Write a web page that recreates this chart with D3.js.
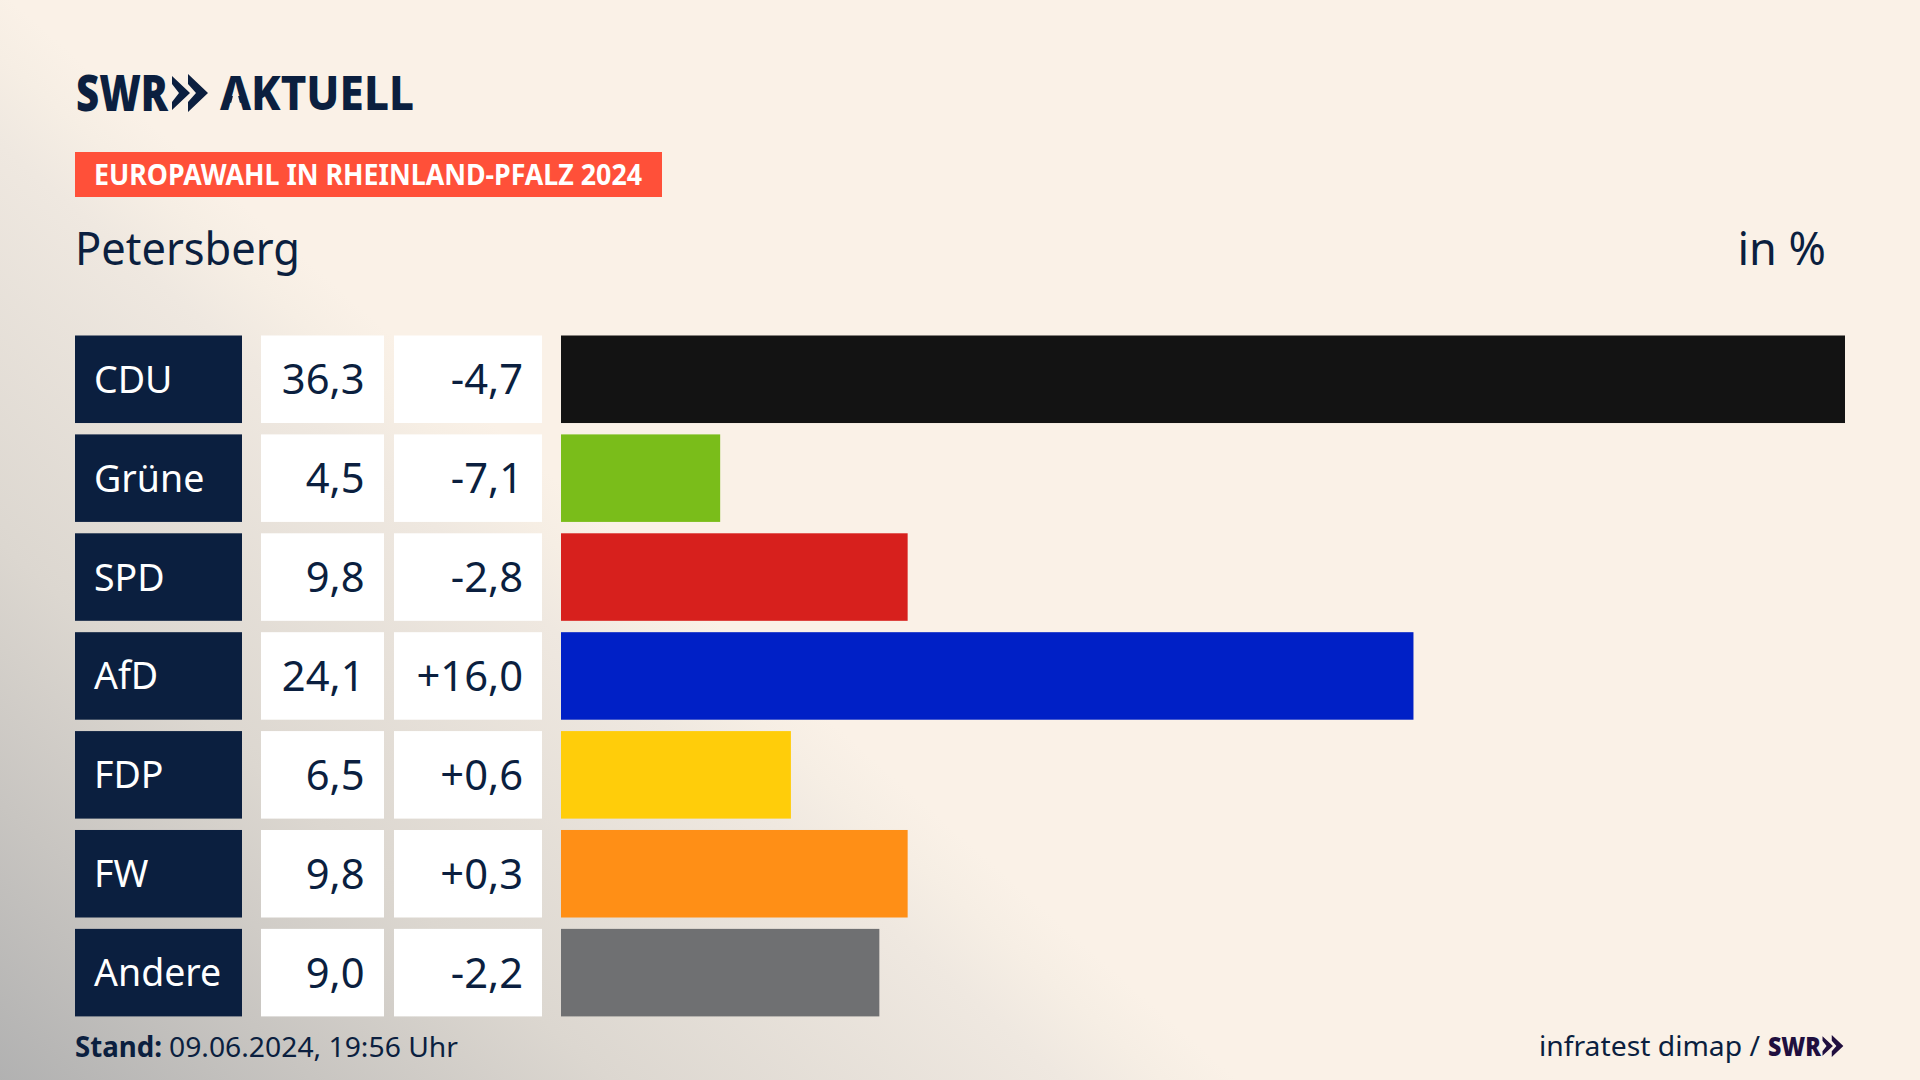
<!DOCTYPE html>
<html>
<head>
<meta charset="utf-8">
<script src="https://cdn.jsdelivr.net/npm/d3@7/dist/d3.min.js"></script>
<style>
  html, body { margin: 0; padding: 0; background: #faf1e7; overflow: hidden; }
  svg { display: block; }
  text { font-family: 'Noto Sans', sans-serif; fill: #0b1f3f; }
</style>
</head>
<body>
<svg id="chart" width="1920" height="1080"></svg>
<script>
const parties = ['CDU', 'Grüne', 'SPD', 'AfD', 'FDP', 'FW', 'Andere'];
const shares = [36.3, 4.5, 9.8, 24.1, 6.5, 9.8, 9.0];
const changes = [-4.7, -7.1, -2.8, 16.0, 0.6, 0.3, -2.2];
const partyColors = ['#131313', '#7abd1a', '#d7201d', '#0020c6', '#ffcd0a', '#ff8f16', '#6f7072'];

const navy = '#0b1f3f';
const fmtShare = (v) => v.toFixed(1).replace('.', ',');
const fmtChange = (v) => (v > 0 ? '+' : '') + fmtShare(v);

const svg = d3.select('#chart');

// background: cream fading to grey towards the bottom left corner
const defs = svg.append('defs');
const glow = defs.append('linearGradient')
  .attr('id', 'glow')
  .attr('gradientUnits', 'userSpaceOnUse')
  .attr('x1', 0).attr('y1', -10).attr('x2', -543).attr('y2', 607);
[[0, '#faf1e7'], [0.06, '#f6eee4'], [0.14, '#efe8e0'], [0.505, '#dcd7d0'], [0.743, '#c8c5c1'], [1, '#b1b1b1']].forEach(([o, c]) => {
  glow.append('stop').attr('offset', o).attr('stop-color', c);
});

svg.append('rect').attr('width', 1920).attr('height', 1080).attr('fill', 'url(#glow)');

const y = d3.scaleBand(parties, [335.5, 1016.4]).paddingInner(0.115);
const x = d3.scaleLinear([0, 36.3], [561, 1845]);

const rows = svg.selectAll('g.row')
  .data(parties)
  .join('g')
    .attr('class', 'row')
    .attr('transform', (d) => `translate(0, ${y(d)})`);

const rowText = y.bandwidth() / 2 + 15;

rows.append('rect')
  .attr('x', 75).attr('width', 167).attr('height', y.bandwidth()).attr('fill', navy);
rows.append('rect')
  .attr('x', 261).attr('width', 123).attr('height', y.bandwidth()).attr('fill', '#fff');
rows.append('rect')
  .attr('x', 394).attr('width', 148).attr('height', y.bandwidth()).attr('fill', '#fff');

rows.append('rect')
  .attr('x', x(0))
  .attr('width', (d, i) => x(shares[i]) - x(0))
  .attr('height', y.bandwidth())
  .attr('fill', (d, i) => partyColors[i]);

rows.append('text')
  .text((d) => d)
  .attr('x', 94)
  .attr('y', rowText - 1.5)
  .attr('font-size', 37.5)
  .style('fill', '#fff');

rows.append('text')
  .text((d, i) => fmtShare(shares[i]))
  .attr('x', 364.5)
  .attr('y', rowText)
  .attr('font-size', 41.7)
  .attr('text-anchor', 'end');

rows.append('text')
  .text((d, i) => fmtChange(changes[i]))
  .attr('x', 523)
  .attr('y', rowText)
  .attr('font-size', 41.7)
  .attr('text-anchor', 'end');

// header
function chevrons(px, py, h, color) {
  const g = svg.append('g').attr('transform', `translate(${px}, ${py}) scale(${h / 38})`).attr('fill', color);
  g.append('path').attr('d', 'M0 2 L18 19 L0 36 L0 28 L7 19 L0 10 Z');
  g.append('path').attr('d', 'M16 0 L36 19 L16 38 L16 28 L24 19 L16 10 Z');
}

svg.append('text').text('SWR')
  .attr('x', 76).attr('y', 110.5).attr('font-size', 49).attr('font-weight', 900)
  .attr('textLength', 92).attr('lengthAdjust', 'spacingAndGlyphs');
chevrons(172, 74, 38, navy);

const wordmark = svg.append('text').text('AKTUELL')
  .attr('x', 220).attr('y', 110).attr('font-size', 48).attr('font-weight', 800)
  .attr('textLength', 194).attr('lengthAdjust', 'spacingAndGlyphs');
// the logo's A has no crossbar: paint the counter over with the background
const a = wordmark.node().getExtentOfChar(0);
const aMid = a.x + a.width / 2;
svg.append('path')
  .attr('d', `M${aMid - a.width * 0.2} 110 L${aMid} 86 L${aMid + a.width * 0.2} 110 Z`)
  .attr('fill', 'url(#glow)');

svg.append('rect').attr('x', 75).attr('y', 152).attr('width', 587).attr('height', 45).attr('fill', '#ff5039');
svg.append('text').text('EUROPAWAHL IN RHEINLAND-PFALZ 2024')
  .attr('x', 94).attr('y', 185).attr('font-size', 28).attr('font-weight', 700)
  .attr('textLength', 548).attr('lengthAdjust', 'spacingAndGlyphs')
  .style('fill', '#fff');

svg.append('text').text('Petersberg')
  .attr('x', 75).attr('y', 265).attr('font-size', 45)
  .attr('textLength', 225).attr('lengthAdjust', 'spacingAndGlyphs');
svg.append('text').text('in %')
  .attr('x', 1826).attr('y', 265).attr('font-size', 45)
  .attr('text-anchor', 'end');

// footer
svg.append('text').text('Stand:')
  .attr('x', 75).attr('y', 1057).attr('font-size', 28).attr('font-weight', 700)
  .attr('textLength', 87).attr('lengthAdjust', 'spacingAndGlyphs');
svg.append('text').text('09.06.2024, 19:56 Uhr')
  .attr('x', 169).attr('y', 1057).attr('font-size', 28)
  .attr('textLength', 289).attr('lengthAdjust', 'spacingAndGlyphs');

svg.append('text').text('infratest dimap /')
  .attr('x', 1539).attr('y', 1056).attr('font-size', 28)
  .attr('textLength', 221).attr('lengthAdjust', 'spacingAndGlyphs');
svg.append('text').text('SWR')
  .attr('x', 1768).attr('y', 1055.5).attr('font-size', 27).attr('font-weight', 900)
  .attr('textLength', 53).attr('lengthAdjust', 'spacingAndGlyphs')
  .style('fill', '#200f3f');
chevrons(1822.5, 1035, 22, '#200f3f');
</script>
</body>
</html>
